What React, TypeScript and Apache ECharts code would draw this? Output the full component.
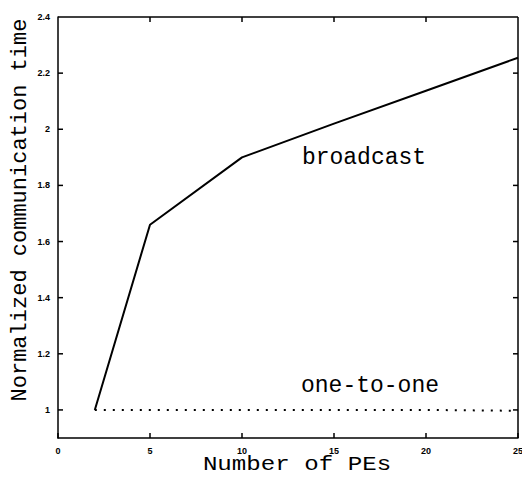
import React, { useEffect, useRef } from "react";
import * as echarts from "echarts";

const peCounts = [2, 5, 10, 15, 20, 25];
const broadcastValues = [1.0, 1.66, 1.9, 2.02, 2.137, 2.255];
const oneToOneValues = [1.0, 1.0, 1.0, 1.0, 1.0, 0.997];
const yTickValues = [1, 1.2, 1.4, 1.6, 1.8, 2, 2.2];
const xTitle = "Number of PEs";
const yTitle = "Normalized communication time";
const broadcastLabel = "broadcast";
const oneToOneLabel = "one-to-one";

const X_MIN = 0, X_MAX = 25, Y_MIN = 0.9, Y_MAX = 2.4;
const TICK = 5;

export default function App() {
  const ref = useRef<HTMLDivElement>(null);
  useEffect(() => {
    if (!ref.current) return;
    const chart = echarts.init(ref.current, undefined, { renderer: "svg" });
    chart.setOption({
      animation: false,
      backgroundColor: "#fff",
      grid: { left: 58, right: 4, top: 17, bottom: 39, outerBoundsMode: "none" },
      xAxis: {
        type: "value",
        min: X_MIN,
        max: X_MAX,
        interval: 5,
        axisLine: { show: true, lineStyle: { color: "black", width: 1.5 } },
        axisTick: { show: true, inside: true, length: TICK, lineStyle: { color: "black", width: 1.5 } },
        splitLine: { show: false },
        axisLabel: {
          show: true,
          color: "black",
          fontWeight: "bold",
          fontSize: 9,
          margin: 8,
        },
      },
      yAxis: {
        type: "value",
        min: Y_MIN,
        max: Y_MAX,
        interval: 0.1,
        axisLine: { show: true, lineStyle: { color: "black", width: 1.5 } },
        axisTick: { show: false },
        splitLine: { show: false },
        axisLabel: {
          show: true,
          color: "black",
          fontWeight: "bold",
          fontSize: 9,
          margin: 8,
          formatter: (v: number) => {
            const k = Math.round(v * 10);
            return k % 2 === 0 ? String(k / 10) : "";
          },
        },
      },
      series: [
        {
          type: "line",
          name: broadcastLabel,
          data: peCounts.map((x, i) => [x, broadcastValues[i]]),
          showSymbol: false,
          lineStyle: { color: "black", width: 2 },
        },
        {
          type: "custom",
          name: "frame",
          silent: true,
          clip: false,
          data: [[X_MIN, Y_MIN]],
          renderItem: (_p: any, api: any) => {
            const a = api.coord([X_MIN, Y_MAX]);
            const b = api.coord([X_MAX, Y_MAX]);
            const c = api.coord([X_MAX, Y_MIN]);
            return {
              type: "group",
              children: [
                { type: "line", shape: { x1: a[0], y1: a[1], x2: b[0], y2: b[1] }, style: { stroke: "black", lineWidth: 1.5 } },
                { type: "line", shape: { x1: b[0], y1: b[1], x2: c[0], y2: c[1] }, style: { stroke: "black", lineWidth: 1.5 } },
              ],
            };
          },
        },
        {
          type: "custom",
          name: "topTicks",
          silent: true,
          clip: false,
          data: [[5, Y_MAX], [10, Y_MAX], [15, Y_MAX], [20, Y_MAX]],
          renderItem: (_p: any, api: any) => {
            const q = api.coord([api.value(0), Y_MAX]);
            return {
              type: "line",
              shape: { x1: q[0], y1: q[1], x2: q[0], y2: q[1] + TICK },
              style: { stroke: "black", lineWidth: 1.5 },
            };
          },
        },
        {
          type: "custom",
          name: "yTicks",
          silent: true,
          clip: false,
          data: yTickValues.map((v) => [X_MIN, v]),
          renderItem: (_p: any, api: any) => {
            const v = api.value(1);
            const p = api.coord([X_MIN, v]);
            const q = api.coord([X_MAX, v]);
            return {
              type: "group",
              children: [
                { type: "line", shape: { x1: p[0], y1: p[1], x2: p[0] + TICK, y2: p[1] }, style: { stroke: "black", lineWidth: 1.5 } },
                { type: "line", shape: { x1: q[0], y1: q[1], x2: q[0] - TICK, y2: q[1] }, style: { stroke: "black", lineWidth: 1.5 } },
              ],
            };
          },
        },
        {
          type: "line",
          name: oneToOneLabel,
          data: peCounts.map((x, i) => [x, oneToOneValues[i]]),
          showSymbol: false,
          lineStyle: { color: "black", width: 2, type: [2, 7] },
        },
      ],
      graphic: [
        {
          type: "text",
          x: 297,
          y: 464,
          scaleX: 1.15,
          style: { text: xTitle, fontSize: 21, fontFamily: "Liberation Mono", fill: "black", align: "center", verticalAlign: "middle" },
        },
        {
          type: "text",
          x: 20,
          y: 210,
          rotation: Math.PI / 2,
          style: { text: yTitle, fontSize: 22, fontFamily: "Liberation Mono", fill: "black", align: "center", verticalAlign: "middle" },
        },
        {
          type: "text",
          x: 364,
          y: 158,
          style: { text: broadcastLabel, fontSize: 23, fontFamily: "Liberation Mono", fill: "black", align: "center", verticalAlign: "middle" },
        },
        {
          type: "text",
          x: 370,
          y: 386,
          style: { text: oneToOneLabel, fontSize: 23, fontFamily: "Liberation Mono", fill: "black", align: "center", verticalAlign: "middle" },
        },
      ],
    });
    return () => chart.dispose();
  }, []);
  return (
    <div
      ref={ref}
      style={{ position: "fixed", left: 0, top: 0, width: 522, height: 477 }}
    />
  );
}
